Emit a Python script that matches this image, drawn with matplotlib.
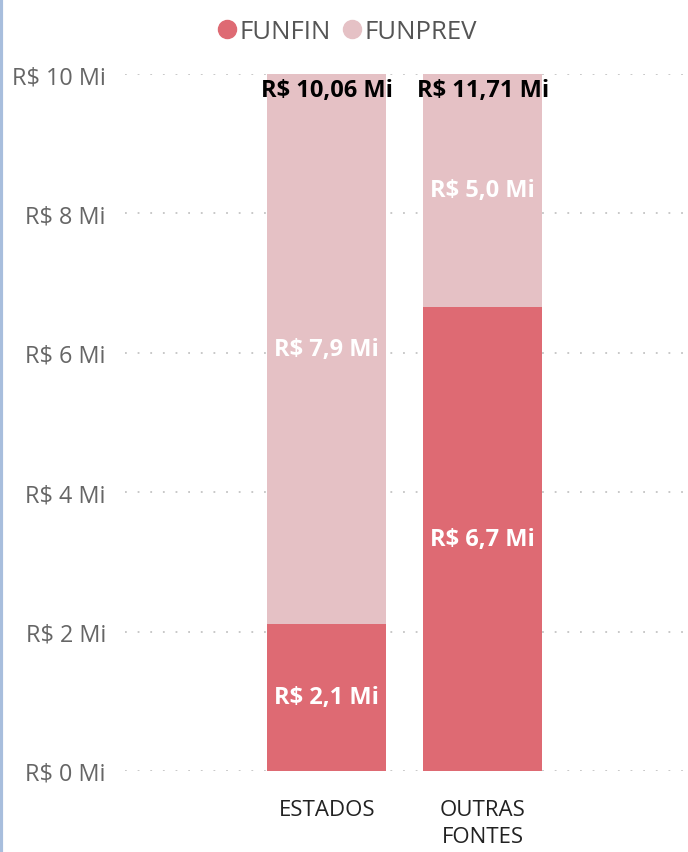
import matplotlib.pyplot as plt
from matplotlib.lines import Line2D

plt.rcParams['font.family'] = ['Open Sans', 'DejaVu Sans']

categorias = ['ESTADOS', 'OUTRAS\nFONTES']
funfin = [2.11, 6.66]
funprev = [7.95, 5.05]
rotulo_funfin = ['R$ 2,1 Mi', 'R$ 6,7 Mi']
rotulo_funprev = ['R$ 7,9 Mi', 'R$ 5,0 Mi']
rotulo_total = ['R$ 10,06 Mi', 'R$ 11,71 Mi']
yticks = [0, 2, 4, 6, 8, 10]
ytick_labels = ['R$ 0 Mi', 'R$ 2 Mi', 'R$ 4 Mi', 'R$ 6 Mi', 'R$ 8 Mi', 'R$ 10 Mi']

cor_fin = '#DE6A73'
cor_prev = '#E5C1C5'
ymax = 10

fig = plt.figure(figsize=(6.88, 8.53), dpi=100)
ax = fig.add_axes([0.182, 0.095, 0.818, 0.817])

x = list(range(len(categorias)))
larg = 0.763
ax.bar(x, funfin, width=larg, color=cor_fin, zorder=2)
ax.bar(x, funprev, width=larg, bottom=funfin, color=cor_prev, zorder=2)

for i in x:
    topo = min(funfin[i] + funprev[i], ymax)
    ax.text(i, funfin[i] / 2, rotulo_funfin[i], ha='center', va='center',
            color='white', fontsize=17, fontweight='bold', zorder=3)
    ax.text(i, (funfin[i] + topo) / 2, rotulo_funprev[i], ha='center', va='center',
            color='white', fontsize=17, fontweight='bold', zorder=3)
    ax.text(i, topo - 0.05, rotulo_total[i], ha='center', va='top',
            color='black', fontsize=17, fontweight='bold', zorder=3)

ax.set_xlim(-1.292, 2.317)
ax.set_ylim(0, ymax)
ax.set_yticks(yticks)
ax.set_yticklabels(ytick_labels, color='#666666', fontsize=16.8)
ax.set_xticks(x)
ax.set_xticklabels(categorias, fontsize=16, color='#222222', linespacing=1.4)
ax.tick_params(axis='both', length=0)
ax.tick_params(axis='y', pad=14)
ax.tick_params(axis='x', pad=20)
ax.yaxis.grid(True, linestyle=(0, (1, 6)), color='#C4C4C4', linewidth=1.3, zorder=0)
for s in ax.spines.values():
    s.set_visible(False)

handles = [Line2D([], [], marker='o', linestyle='', color=cor_fin, markersize=13),
           Line2D([], [], marker='o', linestyle='', color=cor_prev, markersize=13)]
fig.legend(handles, ['FUNFIN', 'FUNPREV'], loc='center', bbox_to_anchor=(0.502, 0.962),
           ncol=2, frameon=False, fontsize=18.5, labelcolor='#555555',
           handletextpad=0.0, columnspacing=0.3, handlelength=1.0)

fig.add_artist(Line2D([0.002, 0.002], [0, 1], color='#A8BEDD', linewidth=3, transform=fig.transFigure))

fig.savefig('out.png', dpi=100)
